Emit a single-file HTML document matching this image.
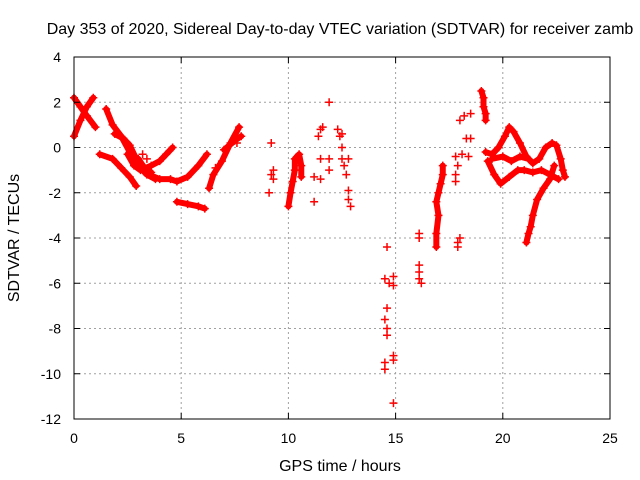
<!DOCTYPE html>
<html><head><meta charset="utf-8"><style>
body{margin:0;background:#fff}
svg{display:block;font-family:"Liberation Sans",sans-serif}
</style></head><body>
<svg id="chart" width="640" height="480" viewBox="0 0 640 480">
<rect width="640" height="480" fill="#fff"/>
<g id="grid"></g>
<g id="marks"></g>
<rect x="74" y="57" width="536" height="362" fill="none" stroke="#000" stroke-width="1"/>
<g id="ticks"></g>
<text x="340" y="34" text-anchor="middle" font-size="16">Day 353 of 2020, Sidereal Day-to-day VTEC variation (SDTVAR) for receiver zamb</text>
<text x="340" y="471" text-anchor="middle" font-size="16">GPS time / hours</text>
<text transform="translate(19,238) rotate(-90)" text-anchor="middle" font-size="16">SDTVAR / TECUs</text>
</svg>
<script>
const xTicks=[0,5,10,15,20,25];
const yTicks=[4,2,0,-2,-4,-6,-8,-10,-12];
const tracks=[
[[0,2.2],[0.3,1.8],[0.6,1.4],[1.0,0.9]],
[[0,0.5],[0.3,1.2],[0.6,1.8],[0.9,2.2]],
[[1.5,1.7],[1.8,1.0],[2.2,0.5],[2.6,-0.2],[3.0,-0.8],[3.4,-1.2],[3.8,-1.4]],
[[1.9,0.6],[2.3,0.4],[2.6,0.1],[2.9,-0.5],[3.3,-0.9],[3.6,-1.1]],
[[1.2,-0.3],[1.8,-0.5],[2.2,-0.9],[2.6,-1.3],[2.9,-1.7]],
[[2.5,-0.3],[2.8,-0.8],[3.1,-1.0],[3.6,-0.8],[4.0,-0.6],[4.3,-0.3],[4.6,0]],
[[3.0,-0.5],[3.5,-1.2],[4.0,-1.4],[4.5,-1.4],[4.8,-1.5],[5.3,-1.3],[5.8,-0.8],[6.2,-0.3]],
[[4.8,-2.4],[5.3,-2.5],[5.8,-2.6],[6.1,-2.7]],
[[6.3,-1.8],[6.5,-1.2],[6.9,-0.6],[7.3,0.2],[7.7,0.9]],
[[7.0,-0.1],[7.5,0.3],[7.8,0.5]],
[[10.0,-2.6],[10.1,-2.0],[10.2,-1.5],[10.3,-1.0],[10.3,-0.5],[10.5,-0.3],[10.6,-0.8],[10.6,-1.3]],
[[16.9,-4.4],[16.9,-3.8],[17.0,-3.0],[16.9,-2.4],[17.0,-2.0],[17.1,-1.6],[17.2,-1.2],[17.2,-0.8]],
[[19.0,2.5],[19.1,2.2],[19.1,1.8],[19.2,1.5],[19.2,1.2]],
[[19.2,-0.2],[19.5,-0.3],[19.8,0],[20.1,0.5],[20.3,0.9],[20.5,0.7],[20.8,0.2],[21.1,-0.4],[21.4,-0.7],[21.7,-0.5],[22.0,0],[22.3,0.2],[22.5,0.1],[22.7,-0.5],[22.8,-1.0],[22.9,-1.3]],
[[19.3,-0.6],[19.6,-1.2],[19.9,-1.6],[20.3,-1.3],[20.7,-1.0],[21.0,-1.0],[21.4,-1.1],[21.8,-1.0],[22.2,-1.2],[22.6,-1.4]],
[[19.5,-0.5],[20.0,-0.4],[20.4,-0.6],[20.8,-0.4],[21.2,-0.5]],
[[22.4,-0.8],[22.2,-1.4],[21.9,-1.8],[21.6,-2.3],[21.4,-3.0],[21.3,-3.5],[21.2,-3.8],[21.1,-4.2]]
];
const points=[[9.2,0.2],[9.2,-1.2],[9.3,-1.0],[9.1,-2.0],[9.3,-1.4],[10.4,-0.6],[3.2,-0.3],[3.4,-0.5],[6.6,-0.9],[7.6,0.2],
[11.2,-2.4],[11.2,-1.3],[11.5,-1.4],[11.5,-0.5],[11.5,0.8],[11.6,0.9],[11.4,0.5],
[11.9,2.0],[11.9,-0.5],[11.9,-1.0],[12.3,0.8],[12.4,0.5],[12.5,0],[12.5,-0.5],[12.6,-0.8],[12.7,-1.2],[12.8,-1.9],[12.8,-2.3],[12.9,-2.6],[12.8,-0.5],[12.5,0.6],
[14.6,-4.4],[14.5,-5.8],[14.7,-6.0],[14.6,-7.1],[14.5,-7.6],[14.6,-8.0],[14.6,-8.3],[14.5,-9.5],[14.5,-9.8],[14.9,-5.7],[14.9,-6.1],[14.9,-9.2],[14.9,-9.4],[14.9,-11.3],
[16.1,-3.8],[16.1,-4.0],[16.1,-5.2],[16.1,-5.5],[16.1,-5.8],[16.2,-6.0],
[17.9,-4.4],[17.9,-4.2],[18.0,-4.0],[17.8,-1.5],[17.8,-1.2],[17.9,-0.8],[17.8,-0.4],[18.1,-0.3],[18.4,-0.4],[18.0,1.2],[18.2,1.4],[18.5,1.5],[18.3,0.4],[18.5,0.4]];
const NS="http://www.w3.org/2000/svg";
const sx=v=>74+v*536/25;
const sy=v=>57+(4-v)*362/16;
const grid=document.getElementById('grid'),ticks=document.getElementById('ticks'),marks=document.getElementById('marks');
function mk(t,a,p){const e=document.createElementNS(NS,t);for(const k in a)e.setAttribute(k,a[k]);p.appendChild(e);return e;}
xTicks.forEach(v=>{
 const g=mk('line',{x1:sx(v),x2:sx(v),y1:57,y2:419,stroke:'#a0a0a0','stroke-dasharray':'2,3'},grid);
 
 
 mk('line',{x1:sx(v),x2:sx(v),y1:419,y2:413,stroke:'#000'},ticks);
 mk('line',{x1:sx(v),x2:sx(v),y1:57,y2:63,stroke:'#000'},ticks);
 const t=mk('text',{x:sx(v),y:443,'text-anchor':'middle','font-size':14},ticks);t.textContent=v;
 
 
});
yTicks.forEach(v=>{
 const g=mk('line',{x1:74,x2:610,y1:sy(v),y2:sy(v),stroke:'#a0a0a0','stroke-dasharray':'2,3'},grid);
 
 
 mk('line',{x1:74,x2:80,y1:sy(v),y2:sy(v),stroke:'#000'},ticks);
 mk('line',{x1:610,x2:604,y1:sy(v),y2:sy(v),stroke:'#000'},ticks);
 const t=mk('text',{x:61,y:sy(v)+5,'text-anchor':'end','font-size':14},ticks);t.textContent=v;
 
 
});
function plus(x,y){
 const p=mk('path',{d:`M${sx(x)-4},${sy(y)}h8M${sx(x)},${sy(y)-4}v8`,stroke:'#f00','stroke-width':1.5,fill:'none'},marks);
 
 
}
tracks.forEach(tr=>{
 const l=mk('polyline',{points:tr.map(p=>sx(p[0])+','+sy(p[1])).join(' '),stroke:'#f00','stroke-width':6,fill:'none','stroke-linejoin':'round','stroke-linecap':'round'},marks);
 
 
 tr.forEach(p=>plus(p[0],p[1]));
});
points.forEach(p=>plus(p[0],p[1]));
</script>
</body></html>
